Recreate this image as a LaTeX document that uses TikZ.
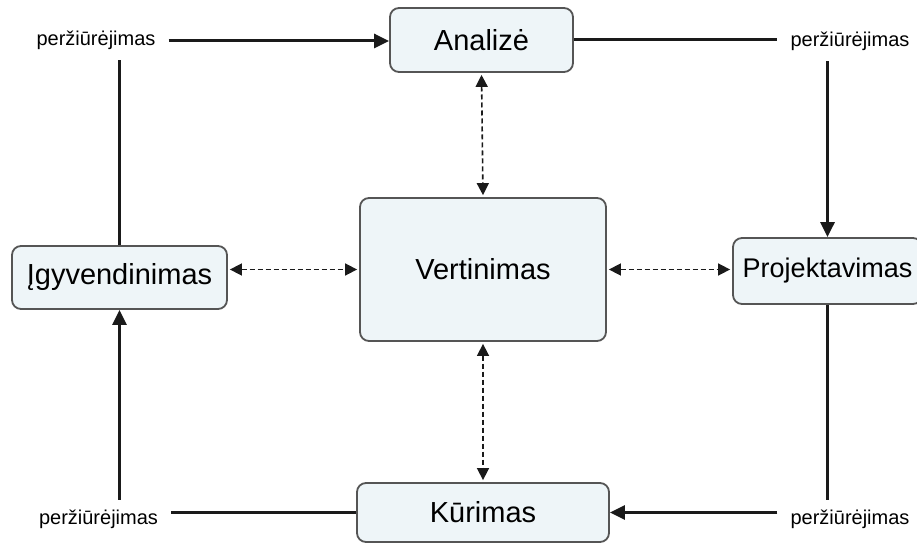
\documentclass[tikz,border=0pt]{standalone}
\usepackage{fontspec}
\setmainfont{Liberation Sans}
\usetikzlibrary{arrows.meta}
\definecolor{boxfill}{HTML}{EEF5F8}
\definecolor{boxline}{HTML}{555555}
\definecolor{flowline}{HTML}{1A1A1A}
\begin{document}
\begin{tikzpicture}[x=1pt,y=-1pt,
  phase/.style={draw=boxline, fill=boxfill, line width=1.8pt, rounded corners=9pt,
    font=\fontsize{29}{34}\selectfont, inner sep=0pt},
  review/.style={font=\fontsize{20}{24}\selectfont, text height=14pt, text depth=4pt,
    inner xsep=13pt, inner ysep=10pt},
  flow/.style={draw=flowline, line width=3pt},
  flowarrow/.style={flow, -{Triangle[length=15pt,width=14pt]}},
  link/.style={draw=flowline, line width=1.6pt, dash pattern=on 5pt off 3pt,
    {Triangle[length=12pt,width=12pt]}-{Triangle[length=12pt,width=12pt]},
    shorten >=2pt, shorten <=2pt}
]
\useasboundingbox (0,0) rectangle (917,545);
\clip (0,0) rectangle (917,545);

% phases of the cycle
\node[phase, minimum width=183pt, minimum height=64pt] (an) at (481.5,40) {Analizė};
\node[phase, minimum width=246pt, minimum height=143pt] (ve) at (483,269.5) {Vertinimas};
\node[phase, minimum width=215pt, minimum height=63pt] (ig) at (119.5,277.5) {Įgyvendinimas};
\node[phase, minimum width=189pt, minimum height=66pt, font=\fontsize{27}{32}\selectfont] (pr) at (827.5,271) {Projektavimas};
\node[phase, minimum width=252pt, minimum height=59pt] (ku) at (483,512.5) {Kūrimas};

% review points at the corners
\node[review] (tl) at (96,41) {peržiūrėjimas};
\node[review] (tr) at (850,42) {peržiūrėjimas};
\node[review] (bl) at (98.5,519) {peržiūrėjimas};
\node[review] (br) at (850,519) {peržiūrėjimas};

% outer cycle
\draw[flow] (ig.north) -- (ig.north |- tl.south);
\draw[flowarrow] (tl.east) -- (tl.east -| an.west);
\draw[flow] (an.east) -- (an.east -| tr.west);
\draw[flowarrow] (tr.south -| pr.north) -- (pr.north);
\draw[flow] (pr.south) -- (pr.south |- br.north);
\draw[flowarrow] (br.west |- ku.east) -- (ku.east);
\draw[flow] (ku.west) -- (ku.west -| bl.east);
\draw[flowarrow] (ig.south |- bl.north) -- (ig.south);

% links with the evaluation
\draw[link] (an.south) -- (ve.north);
\draw[link] (ve.south) -- (ku.north);
\draw[link] (ig.east |- ve.west) -- (ve.west);
\draw[link] (ve.east) -- (pr.west |- ve.east);
\end{tikzpicture}
\end{document}
